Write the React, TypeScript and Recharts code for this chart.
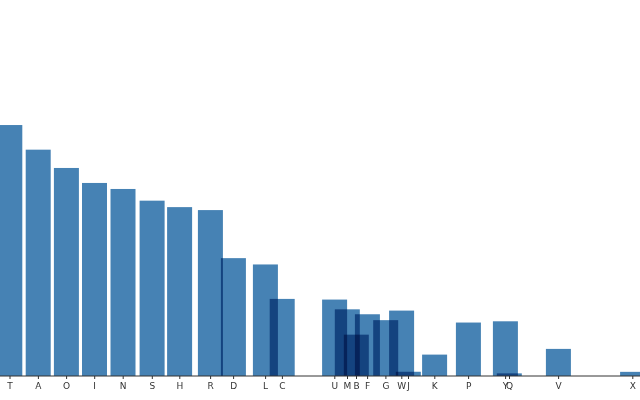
import React from "react";
import { BarChart, Bar, XAxis, YAxis } from "recharts";

const letters = ["T", "A", "O", "I", "N", "S", "H", "R", "D", "L", "C", "U", "M", "B", "F", "G", "W", "J", "K", "P", "Y", "Q", "V", "X"];
const positions = [10, 38.4, 66.6, 94.7, 123.2, 152.3, 179.8, 210.6, 233.6, 265.6, 282.4, 334.8, 347.5, 356.5, 367.6, 385.9, 401.8, 408.5, 434.8, 468.6, 505.6, 509.5, 558.6, 632.8];
const frequencies = [0.09056, 0.08167, 0.07507, 0.06966, 0.06749, 0.06327, 0.06094, 0.05987, 0.04253, 0.04025, 0.02782, 0.02758, 0.02406, 0.01492, 0.02228, 0.02015, 0.0236, 0.00153, 0.00772, 0.01929, 0.01974, 0.00095, 0.00978, 0.0015];
const maxFrequency = 0.12702;

const data = letters.map((letter, i) => ({ letter, pos: positions[i], freq: frequencies[i] }));
const labelByPos: Record<string, string> = {};
positions.forEach((p, i) => {
  labelByPos[String(p)] = letters[i];
});

const BAR_W = 25;

const BarShape = (props: any) => {
  const { x, y, width, height } = props;
  if (height == null || width == null) return null;
  const cx = x + width / 2;
  return (
    <rect
      x={cx - BAR_W / 2}
      y={y}
      width={BAR_W}
      height={height}
      fill="steelblue"
      style={{ mixBlendMode: "multiply" }}
    />
  );
};

export default function App() {
  return (
    <div style={{ position: "absolute", left: 0, top: 0, width: 640, height: 400, background: "#fff" }}>
      <BarChart width={640} height={400} data={data} margin={{ top: 24, right: 0, bottom: 0, left: 0 }}>
        <XAxis
          dataKey="pos"
          type="number"
          domain={[0, 640]}
          ticks={positions}
          interval={0}
          tickFormatter={(v: number) => labelByPos[String(v)] ?? ""}
          tickSize={3}
          tickMargin={3.5}
          height={24}
          stroke="#333"
          tick={{ fontSize: 9, fontFamily: "DejaVu Sans", fill: "#333" }}
          axisLine={{ stroke: "#333" }}
          tickLine={{ stroke: "#333" }}
          allowDataOverflow
        />
        <YAxis hide domain={[0, maxFrequency]} />
        <Bar dataKey="freq" barSize={BAR_W} isAnimationActive={false} shape={BarShape} />
      </BarChart>
    </div>
  );
}
